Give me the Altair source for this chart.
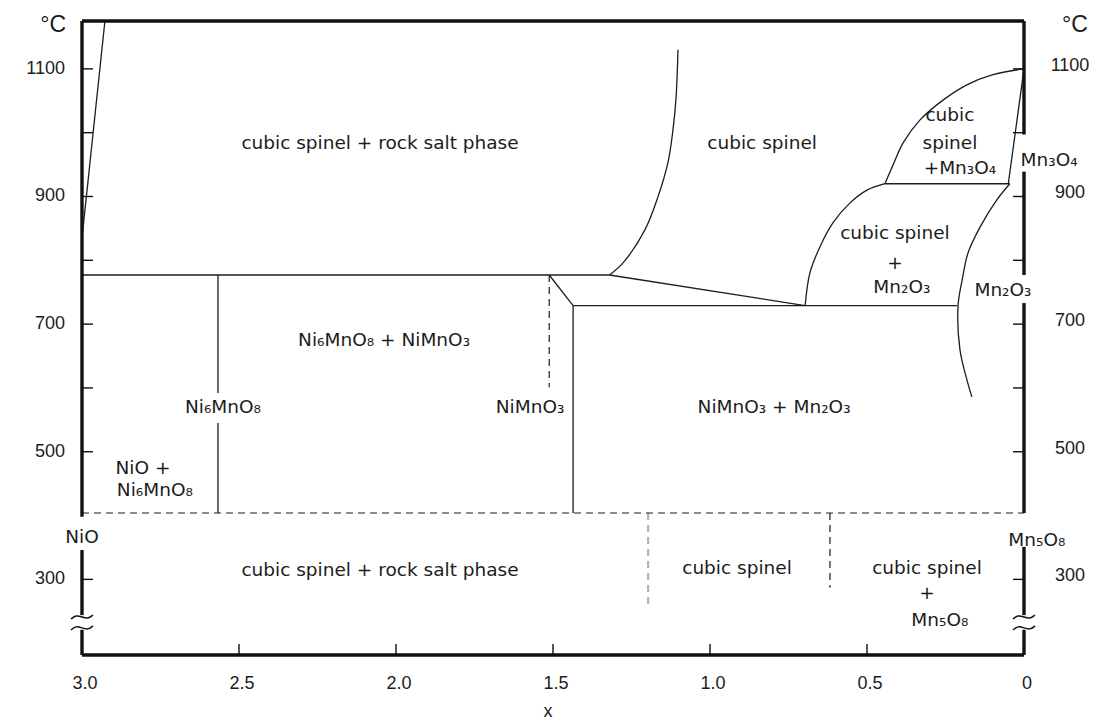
import altair as alt
import pandas as pd

FONT = "Liberation Sans"
LABEL_FONT = "DejaVu Sans"
INK = "#1c1c1c"

# axis ranges: composition x and temperature in degC
T_BOTTOM, T_TOP = 181.5, 1175.0
PLOT_W, PLOT_H = 942, 634

# ---- solid phase boundaries --------------------------------------------
rocksalt_limit_x = [3.0, 2.927]
rocksalt_limit_t = [835, 1175]

eutectoid_x = [3.0, 1.32]
eutectoid_t = [777, 777]

spinel_solvus_x = [1.32, 1.277, 1.207, 1.166, 1.134, 1.118, 1.108, 1.102]
spinel_solvus_t = [777, 796, 848, 899, 953, 1004, 1056, 1130]

spinel_slope_x = [1.32, 0.697]
spinel_slope_t = [777, 729]

mn2o3_tie_x = [1.436, 0.213]
mn2o3_tie_t = [729, 729]

nimno3_edge_x = [1.512, 1.436]
nimno3_edge_t = [777, 729]

nimno3_line_x = [1.436, 1.436]
nimno3_line_t = [729, 404]

ni6mno8_upper_x = [2.567, 2.567]
ni6mno8_upper_t = [777, 592]
ni6mno8_lower_x = [2.567, 2.567]
ni6mno8_lower_t = [545, 404]

mn3o4_solvus_x = [0.0, 0.099, 0.182, 0.258, 0.331, 0.385, 0.420, 0.443]
mn3o4_solvus_t = [1100, 1091, 1075, 1051, 1020, 984, 946, 920]

mn3o4_tie_x = [0.443, 0.045]
mn3o4_tie_t = [920, 920]

mn3o4_limit_x = [0.0, 0.05]
mn3o4_limit_t = [1100, 920]

mn2o3_solvus_x = [0.697, 0.682, 0.650, 0.608, 0.554, 0.500, 0.443]
mn2o3_solvus_t = [729, 780, 821, 859, 890, 910, 920]

mn2o3_limit_x = [0.045, 0.086, 0.140, 0.178, 0.197, 0.210, 0.204, 0.182, 0.166]
mn2o3_limit_t = [920, 895, 852, 812, 769, 729, 660, 613, 586]

# ---- dashed boundaries ---------------------------------------------------
low_t_x = [3.0, 0.0]
low_t_t = [404, 404]
nimno3_dash_x = [1.512, 1.512]
nimno3_dash_t = [777, 601]
mn5o8_dash_x = [0.618, 0.618]
mn5o8_dash_t = [404, 287]
spinel_dash_x = [1.197, 1.197]
spinel_dash_t = [404, 260]

# ---- region labels -------------------------------------------------------
label_text = [
    "cubic spinel + rock salt phase", "cubic spinel", "cubic", "spinel", "+Mn₃O₄",
    "Mn₃O₄", "cubic spinel", "+", "Mn₂O₃", "Mn₂O₃",
    "Ni₆MnO₈  + NiMnO₃", "Ni₆MnO₈", "NiMnO₃", "NiMnO₃  + Mn₂O₃",
    "NiO +", "Ni₆MnO₈", "NiO", "Mn₅O₈",
    "cubic spinel + rock salt phase", "cubic spinel", "cubic spinel", "+", "Mn₅O₈",
]
label_x = [
    2.051, 0.834, 0.236, 0.236, 0.204,
    -0.080, 0.411, 0.411, 0.389, 0.067,
    2.038, 2.551, 1.573, 0.796,
    2.806, 2.768, 3.0, -0.041,
    2.051, 0.914, 0.309, 0.309, 0.268,
]
label_t = [
    984, 984, 1028, 984, 945,
    957, 843, 796, 758, 754,
    675, 570, 570, 570,
    475, 440, 366, 362,
    315, 318, 318, 279, 236,
]

# ---- axes ------------------------------------------------------------------
t_ticks = [1100, 1000, 900, 800, 700, 600, 500, 300]
t_tick_labels = [1100, 900, 700, 500, 300]
x_ticks = [2.5, 2.0, 1.5, 1.0, 0.5]
x_tick_labels = [3.0, 2.5, 2.0, 1.5, 1.0, 0.5, 0.0]
x_tick_text = ["3.0", "2.5", "2.0", "1.5", "1.0", "0.5", "0"]

# frame pieces (side axes are interrupted by labels and the scale break)
frame_x = [3.0, 3.0, 3.0, 0.0, 0.0, 0.0, 0.0, 0.0, 3.0, 3.0]
frame_x2 = [3.0, 3.0, 3.0, 0.0, 0.0, 0.0, 0.0, 0.0, 0.0, 0.0]
frame_t = [1175, 346, 221, 1175, 939, 733, 351, 221, 1175, 181.5]
frame_t2 = [398, 244, 181.5, 997, 777, 404, 244, 181.5, 1175, 181.5]

# scale-break marks: two small waves across each temperature axis
break_axes_x = [3.0, 0.0]
break_levels_t = [241, 224]
wave_dx_px = [-11, -6, 0, 6, 11]
wave_dy_px = [2, -2, 0, 2, -2]


def lines(named):
    rows = []
    for name, (xs_, ts_) in named.items():
        for i, (xv, tv) in enumerate(zip(xs_, ts_)):
            rows.append({"seg": name, "i": i, "x": xv, "t": tv})
    return pd.DataFrame(rows)


solid = lines({
    "rocksalt_limit": (rocksalt_limit_x, rocksalt_limit_t),
    "eutectoid": (eutectoid_x, eutectoid_t),
    "spinel_solvus": (spinel_solvus_x, spinel_solvus_t),
    "spinel_slope": (spinel_slope_x, spinel_slope_t),
    "mn2o3_tie": (mn2o3_tie_x, mn2o3_tie_t),
    "nimno3_edge": (nimno3_edge_x, nimno3_edge_t),
    "nimno3_line": (nimno3_line_x, nimno3_line_t),
    "ni6mno8_upper": (ni6mno8_upper_x, ni6mno8_upper_t),
    "ni6mno8_lower": (ni6mno8_lower_x, ni6mno8_lower_t),
    "mn3o4_solvus": (mn3o4_solvus_x, mn3o4_solvus_t),
    "mn3o4_tie": (mn3o4_tie_x, mn3o4_tie_t),
    "mn3o4_limit": (mn3o4_limit_x, mn3o4_limit_t),
    "mn2o3_solvus": (mn2o3_solvus_x, mn2o3_solvus_t),
    "mn2o3_limit": (mn2o3_limit_x, mn2o3_limit_t),
})
dashed = lines({
    "low_t": (low_t_x, low_t_t),
    "nimno3_dash": (nimno3_dash_x, nimno3_dash_t),
    "mn5o8_dash": (mn5o8_dash_x, mn5o8_dash_t),
})
faint = lines({"spinel_dash": (spinel_dash_x, spinel_dash_t)})

# wave glyphs: pixel shape converted into data units (x axis runs 3 -> 0)
px_per_x = PLOT_W / 3.0
px_per_t = PLOT_H / (T_TOP - T_BOTTOM)
wave_rows = []
for a, ax in enumerate(break_axes_x):
    for b, lvl in enumerate(break_levels_t):
        for i, (dx, dy) in enumerate(zip(wave_dx_px, wave_dy_px)):
            wave_rows.append({
                "seg": f"w{a}{b}", "i": i,
                "x": ax - dx / px_per_x, "t": lvl - dy / px_per_t,
            })
waves = pd.DataFrame(wave_rows)

xs = alt.Scale(domain=[0, 3], reverse=True, nice=False, zero=False)
ys = alt.Scale(domain=[T_BOTTOM, T_TOP], nice=False, zero=False)


def X(f="x"):
    return alt.X(f"{f}:Q", scale=xs, axis=None)


def Y(f="t"):
    return alt.Y(f"{f}:Q", scale=ys, axis=None)


line_enc = dict(x=X(), y=Y(), detail="seg:N", order="i:O")

solid_layer = alt.Chart(solid).mark_line(
    color=INK, strokeWidth=1.3, interpolate="catmull-rom"
).encode(**line_enc)
dashed_layer = alt.Chart(dashed).mark_line(
    color=INK, strokeWidth=1.2, strokeDash=[7, 5]
).encode(**line_enc)
faint_layer = alt.Chart(faint).mark_line(
    color="#b5b5b5", strokeWidth=2.2, strokeDash=[7, 5]
).encode(**line_enc)
wave_layer = alt.Chart(waves).mark_line(
    color="#111", strokeWidth=1.5, interpolate="basis"
).encode(**line_enc)

frame_df = pd.DataFrame({"x": frame_x, "x2": frame_x2, "t": frame_t, "t2": frame_t2})
frame_layer = alt.Chart(frame_df).mark_rule(color="#111", strokeWidth=3.4).encode(
    x=X(), x2="x2:Q", y=Y(), y2="t2:Q"
)

left_ticks = alt.Chart(pd.DataFrame({"x": [3.0] * len(t_ticks), "t": t_ticks})).mark_rule(
    color="#111", strokeWidth=1.4, x2Offset=11
).encode(x=X(), x2="x:Q", y=Y(), y2="t:Q")
right_ticks = alt.Chart(pd.DataFrame({"x": [0.0] * len(t_ticks), "t": t_ticks})).mark_rule(
    color="#111", strokeWidth=1.4, x2Offset=-11
).encode(x=X(), x2="x:Q", y=Y(), y2="t:Q")
bottom_ticks = alt.Chart(pd.DataFrame({"x": x_ticks, "t": [T_BOTTOM] * len(x_ticks)})).mark_rule(
    color="#111", strokeWidth=1.4, y2Offset=-11
).encode(x=X(), x2="x:Q", y=Y(), y2="t:Q")

tl = pd.DataFrame({"t": t_tick_labels, "lab": [str(v) for v in t_tick_labels]})
left_labels = alt.Chart(tl.assign(x=3.0)).mark_text(
    align="right", baseline="middle", dx=-17, fontSize=18, font=FONT, color=INK
).encode(x=X(), y=Y(), text="lab:N")
right_labels = alt.Chart(tl.assign(x=0.0)).mark_text(
    align="center", baseline="middle", dx=46, dy=-3, fontSize=18, font=FONT, color=INK
).encode(x=X(), y=Y(), text="lab:N")

xl = pd.DataFrame({"x": x_tick_labels, "t": T_BOTTOM, "lab": x_tick_text})
x_labels = alt.Chart(xl).mark_text(
    align="center", baseline="middle", dy=29, dx=3, fontSize=18, font=FONT, color=INK
).encode(x=X(), y=Y(), text="lab:N")

x_title = alt.Chart(pd.DataFrame({"x": [1.516], "t": [T_BOTTOM], "lab": ["x"]})).mark_text(
    align="center", baseline="middle", dy=57, fontSize=18, font=FONT, color=INK
).encode(x=X(), y=Y(), text="lab:N")

unit_left = alt.Chart(pd.DataFrame({"x": [3.0], "t": [T_TOP], "lab": ["°C"]})).mark_text(
    align="right", baseline="middle", dx=-16, dy=4, fontSize=23, font=FONT, color=INK
).encode(x=X(), y=Y(), text="lab:N")
unit_right = alt.Chart(pd.DataFrame({"x": [0.0], "t": [T_TOP], "lab": ["°C"]})).mark_text(
    align="center", baseline="middle", dx=51, dy=4, fontSize=23, font=FONT, color=INK
).encode(x=X(), y=Y(), text="lab:N")

labels_df = pd.DataFrame({"x": label_x, "t": label_t, "lab": label_text})
region_labels = alt.Chart(labels_df).mark_text(
    align="center", baseline="middle", fontSize=18.5, font=LABEL_FONT, color=INK
).encode(x=X(), y=Y(), text="lab:N")

chart = alt.layer(
    faint_layer, dashed_layer, solid_layer, frame_layer, wave_layer,
    left_ticks, right_ticks, bottom_ticks,
    left_labels, right_labels, x_labels, x_title, unit_left, unit_right,
    region_labels,
).properties(
    width=PLOT_W, height=PLOT_H,
    autosize=alt.AutoSizeParams(type="none"),
    padding={"left": 82, "top": 21, "right": 78, "bottom": 73},
    background="white",
).configure_view(stroke=None)

chart.save("out.html", embed_options={"renderer": "svg", "actions": False})
